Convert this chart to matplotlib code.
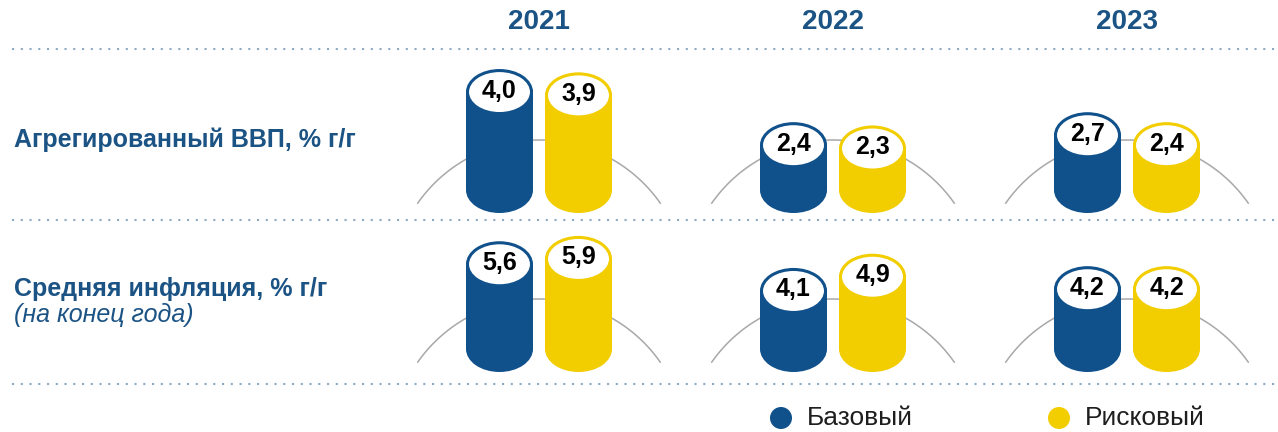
import matplotlib
matplotlib.use("Agg")
import matplotlib.pyplot as plt
from matplotlib.patches import Rectangle, Ellipse, Circle
import numpy as np

# forecast table: base vs risk scenario
years = ["2021", "2022", "2023"]
row_titles = ["Агрегированный ВВП, % г/г", "Средняя инфляция, % г/г"]
row_note = "(на конец года)"
base = [[4.0, 2.4, 2.7], [5.6, 4.1, 4.2]]
risk = [[3.9, 2.3, 2.4], [5.9, 4.9, 4.2]]
legend_labels = ["Базовый", "Рисковый"]

W, H = 1278, 432
BLUE, YELLOW = "#10518b", "#f2cd00"
TXT = "#1b5384"
DOTS = "#8eaac2"
FONT = "Liberation Sans"

CW, EH = 67, 46          # cylinder width / cap height, px
R = 148                  # radius of the arc behind each pair, px
# per-row vertical scale: px per unit, value at the cylinder floor, floor pixel row
row_scale = [(33.2, 1.05, 190), (17.8, 0.84, 349)]


def group_x(i):
    return 539 + i * 294


def fmt(v):
    return f"{v:.1f}".replace(".", ",")


fig = plt.figure(figsize=(W / 100, H / 100), dpi=100, facecolor="white")

bg = fig.add_axes([0, 0, 1, 1])
bg.set_xlim(0, W)
bg.set_ylim(H, 0)
bg.axis("off")

# dotted separators
for y in (49, 220, 384):
    bg.plot([12, W], [y, y], ls=(0, (1, 3.2)), lw=1.5, color=DOTS)

# column headers
for i, yr in enumerate(years):
    bg.text(group_x(i), 22, yr, ha="center", va="center", fontsize=20,
            fontweight="bold", color=TXT, family=FONT)

# row titles
bg.text(14, 140, row_titles[0], ha="left", va="center", fontsize=18,
        fontweight="bold", color=TXT, family=FONT)
bg.text(14, 289, row_titles[1], ha="left", va="center", fontsize=18,
        fontweight="bold", color=TXT, family=FONT)
bg.text(14, 315, row_note, ha="left", va="center", fontsize=18,
        style="italic", color=TXT, family=FONT)

# arcs behind the cylinder pairs
th = np.radians(np.linspace(35, 145, 120))
for ppu, v0, floor in row_scale:
    for i in range(len(years)):
        xc, yc = group_x(i), floor + 98
        bg.plot(xc + R * np.cos(th), yc - R * np.sin(th), color="#a8a8a8", lw=1.1)

# legend
for k, (lab, col) in enumerate(zip(legend_labels, [BLUE, YELLOW])):
    x0 = 781 + k * 278
    bg.add_patch(Circle((x0, 418), 11, color=col, lw=0))
    bg.text(x0 + 26, 418, lab, ha="left", va="center", fontsize=19,
            color="#1e1e1e", family=FONT)


def cylinder(ax, xc, v, v0, ppu, color):
    ax.add_patch(Rectangle((xc - CW / 2, v0), CW, v - v0, color=color, lw=0, zorder=2))
    ax.add_patch(Ellipse((xc, v0), CW, EH / ppu, color=color, lw=0, zorder=2))
    ax.add_patch(Ellipse((xc, v), CW - 3, (EH - 3) / ppu, facecolor="white",
                         edgecolor=color, lw=2.2, zorder=3))
    ax.text(xc, v + 1.5 / ppu, fmt(v), ha="center", va="center", fontsize=18,
            fontweight="bold", color="black", family=FONT, zorder=4)


for r, (ppu, v0, floor) in enumerate(row_scale):
    ax = fig.add_axes([0, 0, 1, 1])
    ax.set_xlim(0, W)
    ax.set_ylim(v0 - (H - floor) / ppu, v0 + floor / ppu)
    ax.axis("off")
    ax.patch.set_visible(False)
    for i in range(len(years)):
        cylinder(ax, group_x(i) - 39.5, base[r][i], v0, ppu, BLUE)
        cylinder(ax, group_x(i) + 39.5, risk[r][i], v0, ppu, YELLOW)

fig.savefig("out.png", dpi=100, facecolor="white")
